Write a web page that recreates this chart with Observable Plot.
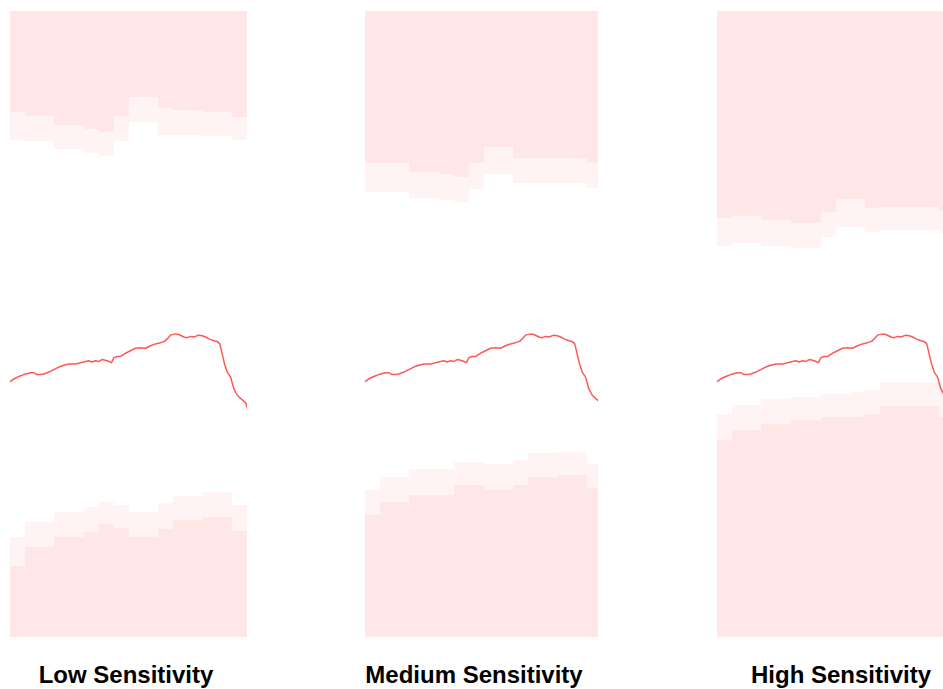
<!DOCTYPE html>
<html>
<head>
<meta charset="utf-8">
<script src="https://cdn.jsdelivr.net/npm/d3@7"></script>
<script src="https://cdn.jsdelivr.net/npm/@observablehq/plot@0.6"></script>
<style>
  html, body { margin: 0; padding: 0; background: #fff; width: 943px; height: 689px; overflow: hidden; }
  .panel { position: absolute; top: 11px; height: 626px; overflow: hidden; }
  .label { position: absolute; top: 663px; font: bold 24px "Liberation Sans", Arial, Helvetica, sans-serif; line-height: 24px; color: #000; white-space: nowrap; transform: translateX(-50%); }
</style>
</head>
<body>
<script>
// ---- Data ----
const sensitivities = ["Low Sensitivity", "Medium Sensitivity", "High Sensitivity"];
const bins = [0, 1, 2, 3, 4, 5, 6, 7, 8, 9, 10, 11, 12, 13, 14, 15];

// metric series (shared by all panels)
const seriesT = [0, 0.22, 0.56, 0.9, 1.35, 1.57, 1.8, 2.03, 2.25, 2.59, 2.92, 3.26, 3.6, 3.94, 4.39, 4.73, 5.06, 5.29, 5.51, 5.74, 5.96, 6.19, 6.53, 6.82, 6.98, 7.2, 7.43, 7.76, 8.1, 8.44, 8.78, 9.12, 9.45, 9.79, 10.13, 10.4, 10.58, 10.8, 11.14, 11.36, 11.7, 11.93, 12.15, 12.38, 12.71, 12.94, 13.17, 13.39, 13.73, 13.95, 14.13, 14.29, 14.45, 14.63, 14.86, 15.08, 15.31, 15.53, 15.87, 16];
const seriesV = [40.9, 41.3, 41.7, 42.0, 42.3, 42.3, 42.0, 42.0, 42.1, 42.4, 42.8, 43.2, 43.5, 43.7, 43.7, 43.9, 44.1, 44.2, 44.0, 44.2, 44.1, 44.4, 44.2, 43.9, 44.7, 44.9, 44.9, 45.4, 45.8, 46.2, 46.3, 46.2, 46.6, 46.9, 47.1, 47.3, 47.7, 48.3, 48.5, 48.4, 48.0, 47.9, 48.1, 48.0, 48.3, 48.2, 48.0, 47.7, 47.4, 47.3, 46.9, 45.3, 43.7, 42.4, 41.6, 39.7, 38.7, 38.2, 37.5, 36.6];

// thresholds per bin — Low sensitivity
const lowUpperCrit = [83.8, 83.3, 83.3, 81.8, 81.8, 81.2, 80.6, 83.3, 86.3, 86.3, 84.5, 84.2, 84.2, 83.9, 83.9, 83.1];
const lowUpperWarn = [79.4, 79.3, 79.3, 78.0, 78.0, 77.3, 76.8, 79.3, 82.2, 82.2, 80.2, 80.2, 80.2, 80.0, 80.0, 79.4];
const lowLowerWarn = [15.9, 18.4, 18.4, 20.0, 20.0, 20.7, 21.5, 21.1, 20.0, 20.0, 21.4, 22.5, 22.5, 23.2, 23.2, 21.1];
const lowLowerCrit = [11.3, 14.3, 14.3, 15.9, 15.9, 16.8, 18.0, 17.4, 15.9, 15.9, 17.2, 18.7, 18.7, 19.2, 19.2, 17.0];
// Medium sensitivity
const medUpperCrit = [75.7, 75.7, 75.7, 74.3, 74.3, 74.0, 73.5, 75.7, 78.2, 78.2, 76.5, 76.5, 76.5, 76.5, 76.5, 75.7];
const medUpperWarn = [71.1, 71.1, 71.1, 70.2, 70.2, 69.8, 69.5, 71.5, 74.0, 74.0, 72.5, 72.5, 72.5, 72.5, 72.5, 71.8];
const medLowerWarn = [23.5, 25.6, 25.6, 26.8, 26.8, 26.8, 28.0, 28.0, 27.6, 27.6, 28.2, 29.4, 29.4, 29.6, 29.6, 27.6];
const medLowerCrit = [19.5, 21.5, 21.5, 22.7, 22.7, 22.7, 24.3, 24.3, 23.5, 23.5, 24.3, 25.6, 25.6, 25.8, 25.8, 23.8];
// High sensitivity
const highUpperCrit = [67.0, 67.3, 67.3, 66.6, 66.6, 66.2, 66.2, 67.9, 69.9, 69.9, 68.5, 68.7, 68.7, 68.7, 68.7, 68.1];
const highUpperWarn = [62.5, 62.9, 62.9, 62.5, 62.5, 62.1, 62.1, 63.9, 65.5, 65.5, 64.7, 65.0, 65.0, 65.0, 65.0, 64.5];
const highLowerWarn = [35.7, 37.1, 37.1, 38.0, 38.0, 38.3, 38.3, 38.8, 38.8, 39.1, 39.5, 40.8, 40.8, 40.8, 40.8, 39.5];
const highLowerCrit = [31.5, 33.1, 33.1, 34.1, 34.1, 34.7, 34.7, 35.1, 35.1, 35.2, 35.7, 36.9, 36.9, 36.9, 36.9, 35.2];

const yMin = 0, yMax = 100;

// ---- Layout ----
const panelLeft = [10, 365, 717];
const panelClip = [237, 233, 226];
const labelCenter = [126, 474, 841];
const panelW = 237, panelH = 626;

const thresholds = [
  [lowUpperCrit, lowUpperWarn, lowLowerWarn, lowLowerCrit],
  [medUpperCrit, medUpperWarn, medLowerWarn, medLowerCrit],
  [highUpperCrit, highUpperWarn, highLowerWarn, highLowerCrit]
];

const series = seriesT.map((t, i) => ({t, v: seriesV[i]}));

sensitivities.forEach((name, p) => {
  const [uc, uw, lw, lc] = thresholds[p];
  const rows = bins.map(i => ({x1: i, x2: i + 1, uc: uc[i], uw: uw[i], lw: lw[i], lc: lc[i]}));
  const band = {fill: "#ff0000", fillOpacity: 0.047, shapeRendering: "crispEdges"};
  const chart = Plot.plot({
    width: panelW,
    height: panelH,
    margin: 0,
    x: {domain: [0, 16], axis: null},
    y: {domain: [yMin, yMax], axis: null},
    style: {maxWidth: "none", background: "transparent", overflow: "hidden", display: "block"},
    marks: [
      Plot.rect(rows, {x1: "x1", x2: "x2", y1: "uw", y2: () => yMax, ...band}),
      Plot.rect(rows, {x1: "x1", x2: "x2", y1: "uc", y2: () => yMax, ...band}),
      Plot.rect(rows, {x1: "x1", x2: "x2", y1: () => yMin, y2: "lw", ...band}),
      Plot.rect(rows, {x1: "x1", x2: "x2", y1: () => yMin, y2: "lc", ...band}),
      Plot.line(series, {x: "t", y: "v", stroke: "#ff3b3b", strokeOpacity: 0.85, strokeWidth: 1.5})
    ]
  });
  const div = document.createElement("div");
  div.className = "panel";
  div.style.left = panelLeft[p] + "px";
  div.style.width = panelClip[p] + "px";
  div.appendChild(chart);
  document.body.appendChild(div);

  const lab = document.createElement("div");
  lab.className = "label";
  lab.style.left = labelCenter[p] + "px";
  lab.textContent = name;
  document.body.appendChild(lab);
});
</script>
</body>
</html>
